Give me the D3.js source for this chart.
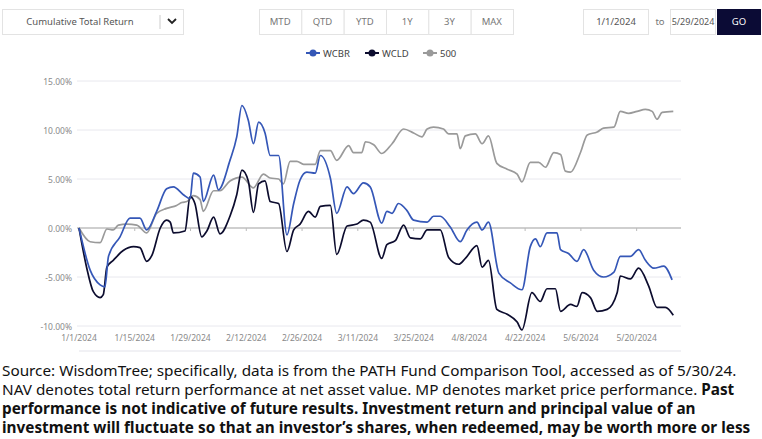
<!DOCTYPE html>
<html><head><meta charset="utf-8">
<script src="https://cdn.jsdelivr.net/npm/d3@7"></script>
<style>
body{margin:0;width:762px;height:439px;background:#fff;font-family:"Noto Sans",sans-serif;overflow:hidden;position:relative}
.note{position:absolute;left:2px;top:361px;width:760px;font-family:"Liberation Sans Narrow","Noto Sans",sans-serif;font-size:15.3px;line-height:19px;color:#111}
</style></head><body>
<svg id="chart" width="762" height="360"></svg>
<div class="note">Source: WisdomTree; specifically, data is from the PATH Fund Comparison Tool, accessed as of 5/30/24. NAV denotes total return performance at net asset value. MP denotes market price performance. <b>Past performance is not indicative of future results. Investment return and principal value of an investment will fluctuate so that an investor’s shares, when redeemed, may be worth more or less than their original cost. Current performance may be lower or higher than the performance data quoted.</b></div>
<script>
const FRAME_WIDTH = 762;
const MARGINS = {left: 79, right: 81, top: 81, bottom: 34};

const periods = ["MTD", "QTD", "YTD", "1Y", "3Y", "MAX"];
const seriesNames = ["WCBR", "WCLD", "500"];
const seriesColors = ["#3557b7", "#0c0c2e", "#9a9a9a"];
const yTicks = [-10, -5, 0, 5, 10, 15];
const xTickLabels = ["1/1/2024","1/15/2024","1/29/2024","2/12/2024","2/26/2024","3/11/2024","3/25/2024","4/8/2024","4/22/2024","5/6/2024","5/20/2024"];

// days since 1/1/2024, cumulative return in %
const wcbrDays = [0,2.8,5.3,6.5,7.4,10.3,12.8,15.3,17,19.5,22,23.7,26.2,27.9,28.7,30.4,31.2,33.8,35,37.9,39.6,40.9,42.5,43.8,45.1,46.7,48,50.1,52.2,53.9,55.5,57.2,59.3,60.6,63.1,64.7,67.3,68.9,71.4,73.1,76,77.3,78.6,80.2,82.3,84,87.4,89,90.7,93.2,95.7,97.4,99.9,101.2,102.8,105.4,108.3,111.2,113.3,114.6,115.8,117.5,120,120.9,122.9,125,126.7,129.2,131.7,134.3,135.9,138.4,140.5,142.2,144.3,146.8,148.9];
const wcbrVals = [0,-4.3,-5.8,-6,-2.9,-0.9,1,1,-0.2,1.7,4,4.2,3.4,3,5.6,5.2,2.7,5.4,3.9,6.9,9.3,12.5,11,8.6,10.8,9.7,7.4,7.4,-0.7,2.5,4.9,5.7,5.6,7.4,5.1,1.5,4.2,3.5,4.6,4.2,0.5,1.7,1.5,2.5,1.8,0.8,0.6,1.2,1.2,0.1,-1.4,-0.2,0.6,-0.2,0.6,-4.6,-5.6,-6.3,-1.9,-1.1,-1.9,-0.5,-0.5,-2.2,-2.6,-3.4,-2.2,-4.3,-5,-4.5,-2.9,-2.9,-2.2,-3.3,-4.1,-3.9,-5.3];

const wcldDays = [0,1.9,3.6,5.3,6.1,7,8.6,11.1,13.7,15.3,17,18.3,20.4,22,22.9,23.7,26.6,27.9,29.1,30.8,32.1,33.8,35.4,37.9,39.6,40.9,42.5,43.8,45.1,46.7,48,50.1,52.2,53.9,55.5,57.6,59.3,60.6,63.1,64.7,67.3,69.8,71.4,73.1,76,77.3,79.4,81.5,83.2,85.7,87.4,90.7,92.8,95.3,97,99.9,101.2,102.8,104.9,107.5,110,111.2,113.7,115.8,117.5,119.6,120.9,123.4,125,126.3,128.4,130.1,132.6,135.1,135.9,138.4,140.5,143,145.1,147.2,149.2];
const wcldVals = [0,-4,-6.5,-7.1,-6.8,-4,-3.3,-2.3,-1.9,-2,-3.4,-2.8,0,0.8,0.6,-0.5,-0.3,3.2,2.5,-0.9,-0.3,1.1,-0.6,1.2,3.4,5.9,4.8,1.6,4.5,4.8,2.7,2.5,-2.4,-0.2,0.4,1.7,1.1,2.2,2.3,-2.7,0.2,0.4,0.8,0.6,-3.1,-1.7,-1.3,0.3,-1,-1.1,-0.2,-0.2,-3,-3.7,-3.1,-1.8,-4,-3.3,-8.3,-8.8,-9.6,-10.4,-6.6,-7.5,-6.2,-6.2,-8.5,-7.8,-8,-6.6,-7.1,-8.5,-8.3,-6.6,-4.9,-5.2,-4.1,-5.9,-8.1,-8.1,-8.9];

const spDays = [0,2.8,5.3,7,8.6,9.9,12,14.5,17,19.5,22,24.5,25.8,27.1,28.7,30.4,31.2,33.8,35.4,37.9,40.9,43.8,46.3,48,50.1,51.3,53,54.7,56.4,59.3,60.6,63.1,64.7,67.7,68.9,71,71.9,74,76,78.6,81.5,84,86.1,87.4,89,91.5,92.8,94.9,95.7,97,99.5,101.2,102.8,104.9,107.5,110,111.2,113.3,115.4,117.1,119.2,120.9,122.1,123.4,125.9,127.6,130.1,131.7,134.3,135.9,138,140.1,142.2,143.9,145.1,146.4,149.2];
const spVals = [0,-1.4,-1.5,-0.1,-0.2,0.3,0.4,0.3,-0.5,1.5,2,2.3,2.6,2.7,3.3,2.9,1.7,3.8,3.8,4.8,5.2,4.1,5.5,5.1,5,4.5,6.8,6.8,6.5,6.5,7.9,7.9,6.9,8.4,7.7,7.7,8.8,8.5,7.6,8.6,10.1,9.7,9.3,10.1,10.3,10.1,9.6,9.6,8.1,9.4,9.6,8.6,9.4,6.6,6,5.5,4.7,6.7,6.7,6.2,7.7,7.5,5.8,5.7,7.7,9.5,9.8,10.2,10.3,11.9,11.7,11.9,12.1,11.9,11.1,11.8,11.9];

const START = new Date(2024, 0, 1);
const toDate = d => new Date(START.getTime() + d * 86400000);
const series = [
  {days: wcbrDays, vals: wcbrVals},
  {days: wcldDays, vals: wcldVals},
  {days: spDays, vals: spVals}
];

const svg = d3.select("#chart");

// top controls
const ctl = svg.append("g");
ctl.append("rect").attr("x", 2.5).attr("y", 9.5).attr("width", 181).attr("height", 25).attr("fill", "#fff").attr("stroke", "#e3e3e3");
ctl.append("text").attr("x", 80).attr("y", 25).attr("text-anchor", "middle").attr("font-size", 9.5).attr("fill", "#555").text("Cumulative Total Return");
ctl.append("line").attr("x1", 160).attr("x2", 160).attr("y1", 15).attr("y2", 29).attr("stroke", "#ccc");
ctl.append("path").attr("d", "M168,19 L172,23 L176,19").attr("fill", "none").attr("stroke", "#222").attr("stroke-width", 1.8);

const BX = d3.scaleBand().domain(periods).range([259, 513]);
periods.forEach(p => {
  ctl.append("rect").attr("x", BX(p) + 0.5).attr("y", 9.5).attr("width", BX.bandwidth()).attr("height", 25).attr("fill", "#fff").attr("stroke", "#e3e3e3");
  ctl.append("text").attr("x", BX(p) + BX.bandwidth() / 2).attr("y", 25).attr("text-anchor", "middle").attr("font-size", 9.5).attr("fill", "#777").text(p);
});
ctl.append("rect").attr("x", 583.5).attr("y", 9.5).attr("width", 65).attr("height", 25).attr("fill", "#fff").attr("stroke", "#e3e3e3");
ctl.append("text").attr("x", 616).attr("y", 25).attr("text-anchor", "middle").attr("font-size", 9.5).attr("fill", "#555").text("1/1/2024");
ctl.append("text").attr("x", 660).attr("y", 25).attr("text-anchor", "middle").attr("font-size", 9.5).attr("fill", "#777").text("to");
ctl.append("rect").attr("x", 670.5).attr("y", 9.5).attr("width", 45).attr("height", 25).attr("fill", "#fff").attr("stroke", "#e3e3e3");
ctl.append("text").attr("x", 693).attr("y", 25).attr("text-anchor", "middle").attr("font-size", 9).attr("fill", "#555").text("5/29/2024");
ctl.append("rect").attr("x", 717).attr("y", 9).attr("width", 44).attr("height", 26).attr("fill", "#0b0b35");
ctl.append("text").attr("x", 739).attr("y", 25).attr("text-anchor", "middle").attr("font-size", 9.5).attr("fill", "#fff").text("GO");

// legend
const legX = [306, 365, 423];
seriesNames.forEach((n, i) => {
  const g = svg.append("g").attr("transform", `translate(${legX[i]},53)`);
  g.append("line").attr("x1", 0).attr("x2", 14).attr("stroke", seriesColors[i]).attr("stroke-width", 2);
  g.append("circle").attr("cx", 7).attr("r", 3.5).attr("fill", seriesColors[i]);
  g.append("text").attr("x", 17).attr("y", 3.5).attr("font-size", 9.5).attr("fill", "#444").text(n);
});

// scales
const X_SCALE = d3.scaleTime().domain([START, new Date(2024, 4, 29)]).range([MARGINS.left, 672.5]);
const Y_SCALE = d3.scaleLinear().domain([-10, 15]).range([326, 81]);

svg.selectAll(".grid").data(yTicks).enter().append("line")
  .attr("x1", 77).attr("x2", 681)
  .attr("y1", d => Y_SCALE(d)).attr("y2", d => Y_SCALE(d))
  .attr("stroke", d => d === 0 ? "#a0a0a0" : "#e8e8ee").attr("stroke-width", d => d === 0 ? 1.2 : 1);

svg.selectAll(".ylab").data(yTicks).enter().append("text")
  .attr("x", 72).attr("y", d => Y_SCALE(d) + 3.5).attr("text-anchor", "end")
  .attr("font-size", 8.5).attr("fill", "#8a8a8a").text(d => d.toFixed(2) + "%");

const xTicks = xTickLabels.map(s => { const p = s.split("/"); return new Date(+p[2], +p[0] - 1, +p[1]); });
svg.selectAll(".xtick").data(xTicks).enter().append("line")
  .attr("x1", d => X_SCALE(d)).attr("x2", d => X_SCALE(d)).attr("y1", Y_SCALE(0)).attr("y2", Y_SCALE(0) + 3)
  .attr("stroke", "#bbb");
svg.selectAll(".xlab").data(xTicks).enter().append("text")
  .attr("x", d => X_SCALE(d)).attr("y", 341).attr("text-anchor", "middle")
  .attr("font-size", 8.5).attr("fill", "#8a8a8a").text((d, i) => xTickLabels[i]);
svg.append("line").attr("x1", 79).attr("x2", 681).attr("y1", 351).attr("y2", 351).attr("stroke", "#e3e3ea");

const line = d3.line().curve(d3.curveMonotoneX)
  .x(d => X_SCALE(toDate(d[0]))).y(d => Y_SCALE(d[1]));

[2, 1, 0].forEach(i => {
  const s = series[i];
  svg.append("path").datum(s.days.map((d, j) => [d, s.vals[j]]))
    .attr("d", line).attr("fill", "none").attr("stroke", seriesColors[i]).attr("stroke-width", 1.7);
});
</script>
</body></html>
